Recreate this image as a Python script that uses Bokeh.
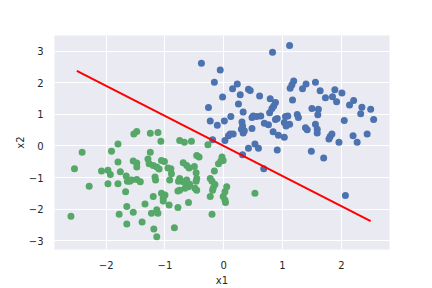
from bokeh.plotting import figure
from bokeh.models import FixedTicker, Range1d
from bokeh.embed import file_html
from bokeh.resources import INLINE

blue_x = [-0.38, 0.83, 1.12, -0.06, -0.16, 0.15, 0.23, 0.42, 0.45, 0.28, -0.02, 0.61, 0.79, 0.88, 0.85,
          0.82, 0.78, 0.25, -0.26, 0.33, 1.19, 1.16, 1.13, 1.34, 1.40, 1.56, 1.64, 1.73, 1.85, 1.89,
          1.92, 2.01, 1.17, 2.14, 2.21, 2.35, 2.33, 2.50, 1.50, 1.61, 1.60, 1.25, 1.27, 1.09, 2.05,
          2.55, -0.23, -0.11, 0.01, 0.12, 0.31, 0.32, 0.30, 0.35, 0.33, 0.48, 0.56, 0.63, 0.50, 0.48,
          0.69, 0.76, 0.88, 0.91, 0.84, 0.93, 1.03, 1.05, 1.03, 1.12, 1.06, 1.39, 1.42, 1.56, 1.59,
          1.59, 1.81, 1.84, 1.79, 1.96, 2.20, 2.27, 2.44, 0.11, 0.16, 0.08, 0.02, -0.19, 0.42, 0.53,
          0.59, 0.91, 0.32, 0.68, 1.49, 1.70, 2.07]
blue_y = [2.62, 2.97, 3.18, 2.41, 2.02, 1.81, 1.96, 1.80, 1.76, 1.62, 1.55, 1.58, 1.50, 1.38, 1.27,
          1.19, 1.05, 1.33, 1.22, 1.08, 2.06, 1.94, 1.83, 1.81, 1.96, 2.02, 1.75, 1.53, 1.56, 1.78,
          1.40, 1.68, 1.46, 1.30, 1.44, 1.23, 1.02, 1.16, 1.19, 1.16, 0.99, 1.00, 0.90, 0.95, 0.81,
          0.84, 0.79, 0.66, 0.79, 0.93, 0.76, 0.63, 0.53, 0.48, 0.41, 0.90, 0.93, 0.95, 0.95, 0.55,
          0.72, 0.67, 0.84, 0.87, 0.45, 0.34, 0.28, 0.93, 0.74, 0.69, 0.63, 0.58, 0.51, 0.69, 0.53,
          0.41, 0.30, 0.38, 0.22, 0.12, 0.32, 0.12, 0.38, 0.38, 0.38, 0.32, 0.17, 0.20, -0.07, 0.06,
          -0.07, -0.13, -0.28, -0.72, -0.17, -0.38, -1.57]

green_x = [-1.48, -1.53, -1.25, -1.12, -1.80, -2.41, -1.91, -1.25, -1.80, -1.54, -1.48, -1.48, -1.29, -1.27,
           -1.20, -1.14, -2.54, -2.08, -1.97, -1.93, -1.76, -1.66, -1.57, -1.48, -1.17, -1.16, -1.97, -1.80,
           -1.07, -0.75, -0.67, -0.55, -0.27, -1.06, -1.01, -0.46, -0.42, -0.03, -0.05, -0.09, -0.69, -0.63,
           -0.59, -1.10, -0.95, -0.90, -0.50, -0.47, -0.16, -0.89, -0.92, -0.75, -0.77, -0.63, -0.46, -0.47,
           -0.23, -0.20, -2.29, -1.64, -1.42, -1.67, -1.20, -1.34, -1.65, -1.54, -1.78, -1.23, -1.14, -1.12,
           -2.60, -1.39, -1.65, -1.19, -1.14, -0.69, -0.63, -0.60, -0.66, -0.75, -0.78, -0.49, -0.46, -0.15,
           -0.18, -0.19, 0.05, 0.02, -0.01, 0.02, 0.03, -0.23, -0.60, 0.53, -1.06, -1.00, -1.03, -1.03,
           -0.93, -0.78, -0.20, -0.84, -0.58, -1.60, -0.01]
green_y = [0.46, 0.38, 0.40, 0.43, 0.06, -0.20, -0.17, -0.20, -0.51, -0.48, -0.54, -0.67, -0.41, -0.56,
           -0.62, -0.67, -0.72, -0.79, -0.77, -0.90, -0.82, -0.95, -1.08, -1.06, -0.98, -1.08, -1.20, -1.20,
           0.15, 0.17, 0.12, 0.15, 0.04, -0.46, -0.49, -0.30, -0.35, -0.35, -0.48, -0.56, -0.53, -0.62,
           -0.70, -0.73, -0.70, -0.72, -0.65, -0.85, -0.79, -0.88, -1.08, -1.03, -1.12, -1.08, -1.03, -1.12,
           -1.03, -1.12, -1.28, -1.12, -1.13, -1.45, -1.60, -1.84, -1.92, -2.10, -2.16, -2.13, -2.02, -2.13,
           -2.23, -2.41, -2.47, -2.63, -2.88, -1.13, -1.19, -1.29, -1.34, -1.40, -1.43, -1.34, -1.40, -1.22,
           -1.34, -1.40, -1.29, -1.45, -1.60, -1.71, -1.79, -1.60, -1.79, -1.50, -1.50, -1.55, -1.66, -1.74,
           -1.87, -1.95, -2.16, -2.59, -1.21, -1.12, -0.46]

line_x = [-2.5, 2.5]
line_y = [2.38, -2.38]

x_ticks = [-2, -1, 0, 1, 2]
y_ticks = [-3, -2, -1, 0, 1, 2, 3]

p = figure(width=432, height=288, output_backend="svg", toolbar_location=None,
           x_range=Range1d(-2.88, 2.82), y_range=Range1d(-3.28, 3.5),
           min_border_left=54, min_border_top=35, min_border_right=43, min_border_bottom=36)

p.background_fill_color = "#EAEAF2"
p.border_fill_color = "white"
p.outline_line_color = None

p.scatter(blue_x, blue_y, size=7, color="#4C72B0", line_color=None)
p.scatter(green_x, green_y, size=7, color="#55A868", line_color=None)
p.line(line_x, line_y, color="red", line_width=2)

for ax, ticks in ((p.xaxis, x_ticks), (p.yaxis, y_ticks)):
    ax.ticker = FixedTicker(ticks=ticks)
    ax.major_label_overrides = {t: (str(t).replace("-", "\u2212")) for t in ticks}
    ax.axis_line_color = None
    ax.major_tick_line_color = None
    ax.minor_tick_line_color = None
    ax.major_label_text_font = "DejaVu Sans"
    ax.major_label_text_font_size = "10px"
    ax.major_label_text_color = "#262626"
    ax.axis_label_text_font = "DejaVu Sans"
    ax.axis_label_text_font_size = "10px"
    ax.axis_label_text_font_style = "normal"
    ax.axis_label_text_color = "#262626"

p.xaxis.major_label_standoff = 5
p.xaxis.axis_label_standoff = 3
p.yaxis.major_label_standoff = 5
p.yaxis.axis_label_standoff = 0

p.xaxis.axis_label = "x1"
p.yaxis.axis_label = "x2"

p.xgrid.grid_line_color = "white"
p.ygrid.grid_line_color = "white"
p.xgrid.grid_line_width = 1
p.ygrid.grid_line_width = 1

open("out.html", "w").write(file_html(p, INLINE))
